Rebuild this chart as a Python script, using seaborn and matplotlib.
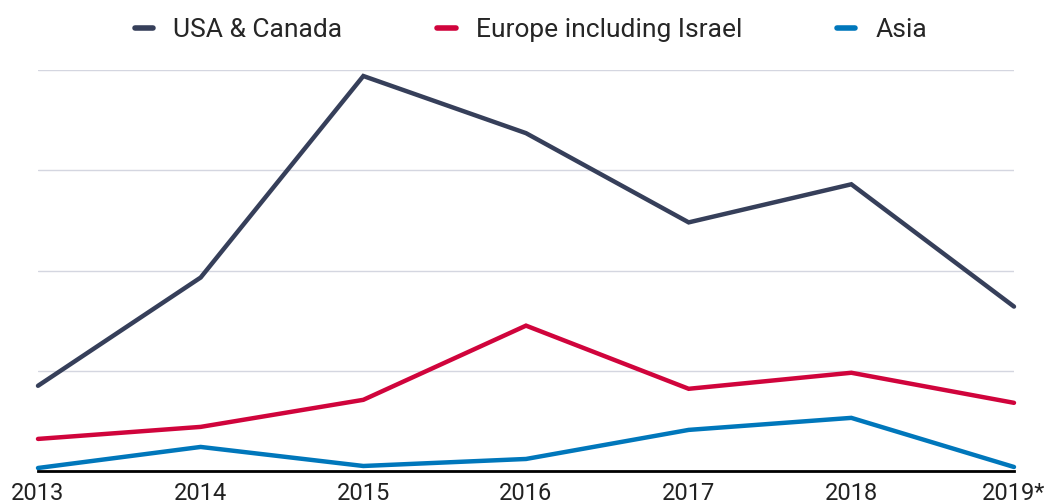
import matplotlib
matplotlib.use("Agg")
import matplotlib.pyplot as plt
import seaborn as sns
import pandas as pd

years = ["2013", "2014", "2015", "2016", "2017", "2018", "2019*"]
usa_canada = [0.85, 1.93, 3.94, 3.37, 2.48, 2.86, 1.64]
europe_israel = [0.32, 0.44, 0.71, 1.45, 0.82, 0.98, 0.68]
asia = [0.03, 0.24, 0.05, 0.12, 0.41, 0.53, 0.04]
series_names = ["USA & Canada", "Europe including Israel", "Asia"]
colors = ["#363f5a", "#d0043c", "#0077bb"]

sns.set_theme(style="white")
plt.rcParams["font.family"] = ["Roboto", "DejaVu Sans"]

df = pd.DataFrame({
    "year": years * 3,
    "x": list(range(len(years))) * 3,
    "value": usa_canada + europe_israel + asia,
    "region": [series_names[0]] * 7 + [series_names[1]] * 7 + [series_names[2]] * 7,
})

fig = plt.figure(figsize=(10.47, 5.04), dpi=100)
ax = fig.add_axes([38 / 1047, 1 - 471 / 504, (1014 - 38) / 1047, (471 - 70) / 504])

sns.lineplot(data=df, x="x", y="value", hue="region", hue_order=series_names,
             palette=colors, linewidth=3.2, ax=ax, legend=True)
for ln in ax.lines:
    ln.set_clip_on(False)
    ln.set_solid_joinstyle("miter")

ax.set_xlim(0, len(years) - 1)
ax.set_ylim(0, 4)
ax.set_yticks([1, 2, 3, 4])
ax.set_yticklabels([])
ax.yaxis.grid(True, color="#d4d6e0", linewidth=1)
ax.xaxis.grid(False)
ax.set_xticks(range(len(years)))
ax.set_xticklabels(years, fontsize=17, color="#222222")
ax.tick_params(axis="x", length=0, pad=8)
ax.tick_params(axis="y", length=0)
ax.set_xlabel("")
ax.set_ylabel("")
for s in ["top", "right", "left"]:
    ax.spines[s].set_visible(False)
ax.spines["bottom"].set_color("black")
ax.spines["bottom"].set_linewidth(2)

handles, labels = ax.get_legend_handles_labels()
for h in handles:
    h.set_linewidth(4)
ax.legend(handles, labels, loc="center", bbox_to_anchor=(531 / 1047, 1 - 30 / 504),
          bbox_transform=fig.transFigure, ncol=3, frameon=False, fontsize=19,
          handlelength=0.7, handletextpad=0.75, columnspacing=3.6)

fig.savefig("out.png", dpi=100)
